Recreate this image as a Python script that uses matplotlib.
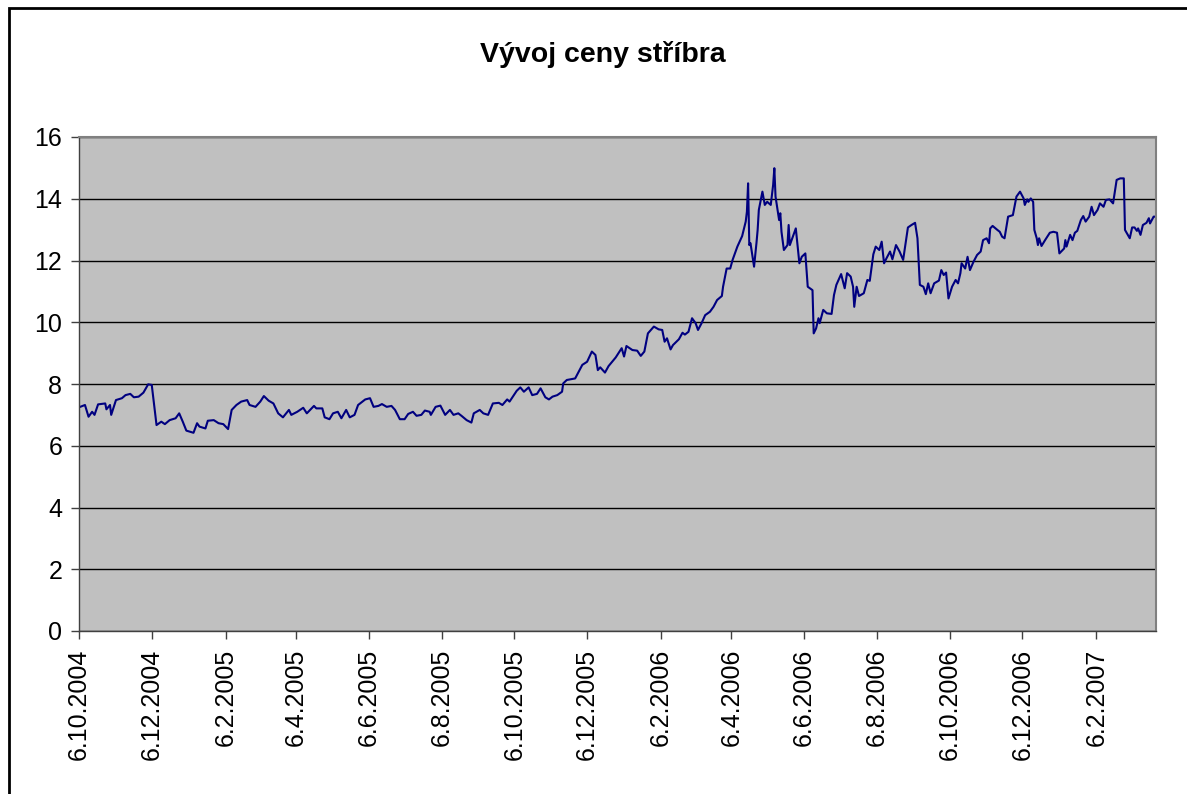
import matplotlib
matplotlib.use('Agg')
import matplotlib.pyplot as plt
import matplotlib.dates as mdates
from matplotlib.patches import Rectangle
import numpy as np
import pandas as pd

# silver price: days since 6.10.2004 and price
start = pd.Timestamp('2004-10-06')
end_day = 903

days = [1, 5, 8, 11, 13, 16, 22, 23, 26, 27, 31, 36, 39, 43, 46, 50, 54, 58, 61, 65,
        69, 72, 76, 81, 84, 87, 90, 96, 99, 101, 106, 108, 113, 117, 121, 125, 128, 132, 136, 141,
        143, 148, 152, 155, 159, 163, 167, 171, 176, 178, 183, 188, 191, 197, 199, 204, 206, 210, 213, 217,
        220, 224, 227, 231, 234, 240, 244, 247, 251, 254, 258, 262, 265, 269, 273, 276, 280, 283, 287, 290,
        294, 295, 299, 303, 307, 311, 314, 318, 321, 325, 329, 331, 336, 339, 343, 347, 352, 355, 359, 361,
        367, 370, 373, 377, 380, 384, 387, 391, 394, 397, 401, 405, 406, 409, 416, 422, 426, 430, 433, 435,
        437, 441, 444, 450, 455, 457, 459, 464, 468, 471, 474, 477, 482, 486, 489, 491, 493, 496, 498, 503,
        506, 508, 511, 514, 517, 519, 522, 525, 529, 532, 535, 539, 540, 543, 546, 548, 552, 556, 559, 560,
        561, 562, 563, 566, 568, 569, 570, 573, 575, 577, 580, 582, 583, 584, 587, 588, 589, 591, 594, 595,
        596, 601, 604, 606, 609, 611, 615, 616, 618, 620, 621, 624, 627, 631, 633, 635, 639, 642, 644, 647,
        649, 650, 652, 654, 658, 661, 663, 666, 668, 671, 673, 675, 677, 680, 682, 685, 688, 691, 695, 698,
        701, 703, 705, 708, 710, 712, 714, 717, 721, 723, 725, 727, 729, 732, 735, 737, 739, 740, 743, 745,
        747, 750, 753, 756, 758, 761, 763, 764, 766, 770, 772, 774, 776, 779, 783, 786, 789, 792, 793, 795,
        796, 798, 800, 801, 803, 804, 805, 807, 810, 814, 817, 820, 822, 826, 827, 828, 831, 833, 835, 837,
        840, 842, 844, 847, 849, 851, 854, 856, 859, 861, 864, 867, 870, 873, 876, 877, 881, 883, 885, 887,
        888, 890, 892, 895, 897, 898, 901, 903]

price = [7.26, 7.32, 6.94, 7.10, 7.00, 7.34, 7.37, 7.18, 7.32, 7.00, 7.48, 7.54, 7.64, 7.68, 7.57, 7.59, 7.72, 7.99, 7.97, 6.67,
         6.78, 6.70, 6.83, 6.89, 7.05, 6.78, 6.49, 6.42, 6.73, 6.62, 6.56, 6.81, 6.83, 6.73, 6.70, 6.54, 7.16, 7.32, 7.43, 7.48,
         7.32, 7.26, 7.43, 7.61, 7.46, 7.37, 7.05, 6.92, 7.16, 7.00, 7.10, 7.23, 7.05, 7.29, 7.21, 7.21, 6.92, 6.86, 7.05, 7.10,
         6.89, 7.16, 6.92, 7.00, 7.32, 7.50, 7.54, 7.26, 7.29, 7.35, 7.26, 7.29, 7.16, 6.86, 6.86, 7.03, 7.10, 6.97, 7.00, 7.14,
         7.10, 7.00, 7.26, 7.30, 7.00, 7.16, 7.00, 7.05, 6.96, 6.83, 6.75, 7.05, 7.16, 7.05, 7.00, 7.37, 7.39, 7.32, 7.50, 7.43,
         7.78, 7.89, 7.75, 7.89, 7.64, 7.68, 7.86, 7.57, 7.50, 7.59, 7.64, 7.75, 8.02, 8.13, 8.18, 8.62, 8.72, 9.05, 8.94, 8.45,
         8.54, 8.37, 8.58, 8.86, 9.16, 8.89, 9.23, 9.10, 9.08, 8.91, 9.05, 9.64, 9.86, 9.77, 9.75, 9.37, 9.48, 9.12, 9.26, 9.45,
         9.66, 9.60, 9.69, 10.13, 9.97, 9.75, 9.97, 10.23, 10.34, 10.50, 10.72, 10.85, 11.15, 11.74, 11.74, 12.02, 12.45, 12.79, 13.26, 13.58,
         14.50, 12.50, 12.56, 11.80, 12.56, 12.99, 13.64, 14.23, 13.80, 13.90, 13.80, 14.45, 14.99, 14.07, 13.31, 13.53, 12.93, 12.34, 12.50, 13.15,
         12.50, 13.04, 11.91, 12.12, 12.23, 11.15, 11.04, 9.64, 9.80, 10.13, 9.97, 10.40, 10.29, 10.27, 10.88, 11.21, 11.56, 11.10, 11.59, 11.48,
         11.15, 10.50, 11.15, 10.85, 10.94, 11.37, 11.34, 12.20, 12.45, 12.34, 12.61, 11.91, 12.07, 12.29, 12.04, 12.50, 12.29, 12.02, 13.07, 13.15,
         13.22, 12.72, 11.21, 11.15, 10.91, 11.26, 10.94, 11.26, 11.35, 11.69, 11.53, 11.61, 10.77, 11.15, 11.37, 11.26, 11.59, 11.91, 11.74, 12.12,
         11.69, 11.96, 12.18, 12.29, 12.66, 12.72, 12.56, 13.04, 13.12, 12.99, 12.93, 12.77, 12.72, 13.42, 13.47, 14.07, 14.23, 14.01, 13.80, 13.98,
         13.90, 14.01, 13.90, 12.99, 12.72, 12.50, 12.72, 12.47, 12.66, 12.90, 12.93, 12.90, 12.23, 12.39, 12.66, 12.45, 12.83, 12.66, 12.90, 12.96,
         13.31, 13.44, 13.26, 13.42, 13.74, 13.47, 13.64, 13.85, 13.74, 13.96, 13.98, 13.85, 14.61, 14.66, 14.66, 12.99, 12.72, 13.07, 13.07, 12.96,
         13.04, 12.83, 13.15, 13.22, 13.37, 13.20, 13.42, 13.42]

dates = start + pd.to_timedelta(days, unit='D')

plt.rcParams['font.family'] = ['Liberation Sans', 'DejaVu Sans']

fig = plt.figure(figsize=(11.87, 7.94), dpi=100)
fig.patch.set_facecolor('white')

# outer chart border (right/bottom run off the image)
fig.patches.append(Rectangle((9 / 1187, -0.05), 1.2, 1 - 8 / 794 + 0.05,
                             transform=fig.transFigure, fill=False,
                             edgecolor='black', linewidth=2))

ax = fig.add_axes([79 / 1187, 1 - 631 / 794, (1156 - 79) / 1187, (631 - 137) / 794])
ax.set_facecolor('#C0C0C0')

ax.plot(dates, price, color='#000080', linewidth=1.5)

ax.set_ylim(0, 16)
ax.set_yticks(np.arange(0, 17, 2))
ax.yaxis.grid(True, color='black', linewidth=1)
ax.set_axisbelow(True)

ax.set_xlim(start, start + pd.Timedelta(days=end_day))
ax.xaxis.set_major_locator(mdates.MonthLocator(bymonth=[2, 4, 6, 8, 10, 12], bymonthday=6))
ax.xaxis.set_major_formatter(plt.FuncFormatter(
    lambda v, pos: '{0.day}.{0.month}.{0.year}'.format(mdates.num2date(v))))

ax.tick_params(axis='x', labelsize=18, length=6, width=1, color='#404040', pad=7, labelrotation=90)
ax.tick_params(axis='y', labelsize=18, length=6, width=1, color='#404040', pad=6)

for side in ['top', 'right']:
    ax.spines[side].set_color('#808080')
    ax.spines[side].set_linewidth(1.5)
for side in ['left', 'bottom']:
    ax.spines[side].set_color('#404040')
    ax.spines[side].set_linewidth(1)

fig.text(603 / 1187, 1 - 55 / 794, 'Vývoj ceny stříbra', ha='center', va='center',
         fontsize=20.5, fontweight='bold')

fig.savefig('out.png', dpi=100)
